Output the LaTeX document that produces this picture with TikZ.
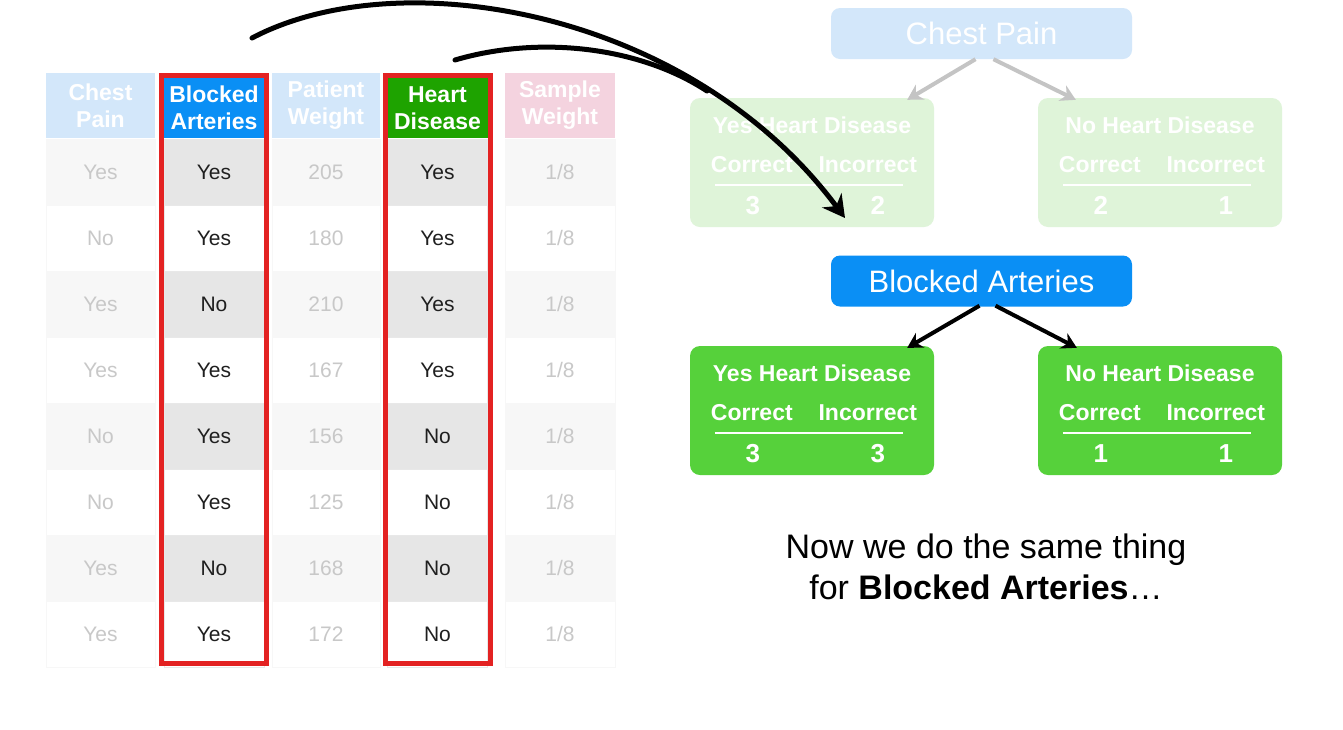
\documentclass[tikz,border=0pt]{standalone}
\usepackage{fontspec}
\setmainfont{Liberation Sans}
\usetikzlibrary{arrows.meta,calc}
\definecolor{fadeblue}{HTML}{D3E7FA}
\definecolor{fadepink}{HTML}{F4D3DF}
\definecolor{hiblue}{HTML}{0A8FF5}
\definecolor{higreen}{HTML}{1EA300}
\definecolor{leafgreen}{HTML}{56D13B}
\definecolor{fadegreen}{HTML}{DFF4D9}
\definecolor{redbox}{HTML}{E32222}
\definecolor{rowfade}{HTML}{F7F7F7}
\definecolor{rowhi}{HTML}{E6E6E6}
\definecolor{txtfade}{HTML}{C8C8C8}
\definecolor{arrgray}{HTML}{C4C4C4}
\newcommand\leaftxt[4]{%
  \node[lt] (#1t) at ($(#1.north)+(0,27)$) {#2};
  \node[lt] (#1c) at ($(#1.north west)+(62,67)$) {Correct};
  \node[lt] (#1i) at ($(#1.north west)+(178,67)$) {Incorrect};
  \draw[white, line width=2] ($(#1.north west)+(25,87)$) -- ($(#1.north west)+(213,87)$);
  \node[ln] (#1a) at ($(#1.north west)+(63,108)$) {#3};
  \node[ln] (#1b) at ($(#1.north west)+(188,108)$) {#4};
}
\begin{document}
\begin{tikzpicture}[x=1pt,y=-1pt,
  hdr/.style={font=\bfseries\fontsize{23}{27}\selectfont, text=white, align=center, inner sep=0},
  cellf/.style={minimum height=66, inner sep=0, text=txtfade, draw=gray!6, line width=0.6, font=\fontsize{21}{25}\selectfont},
  cellh/.style={minimum height=66, minimum width=100, inner sep=0, text=black!88, draw=gray!18, line width=0.6, font=\fontsize{21}{25}\selectfont},
  treebox/.style={rounded corners=9, minimum width=301, minimum height=51, inner sep=0, text=white, font=\fontsize{31}{35}\selectfont},
  leaf/.style={rounded corners=10, minimum width=244, minimum height=129, inner sep=0},
  lt/.style={inner sep=0, text=white, font=\bfseries\fontsize{23}{27}\selectfont},
  ln/.style={inner sep=0, text=white, font=\bfseries\fontsize{26}{30}\selectfont},
  treearr/.style={line width=4, -{Stealth[length=15,width=17]}},
  bigarr/.style={line width=5, line cap=round}
]
\useasboundingbox[fill=white] (0,0) rectangle (1343,729);

% headers
\node[hdr, fill=fadeblue, minimum width=109, minimum height=65] (hcp) at (100.5,105.5) {Chest\\Pain};
\node[hdr, fill=hiblue, minimum width=100, minimum height=60] (hba) at (214,108) {Blocked\\Arteries};
\node[hdr, fill=fadeblue, minimum width=108, minimum height=65] (hpw) at (326,105.5) {Patient\\Weight};
\node[hdr, fill=higreen, minimum width=100, minimum height=60] (hhd) at (437.5,108) {Heart\\Disease};
\node[hdr, fill=fadepink, minimum width=110, minimum height=65] (hsw) at (560,105.5) {Sample\\Weight};

% rows
\foreach \a/\b/\c/\d [count=\i] in {Yes/Yes/205/Yes, No/Yes/180/Yes, Yes/No/210/Yes, Yes/Yes/167/Yes, No/Yes/156/No, No/Yes/125/No, Yes/No/168/No, Yes/Yes/172/No}{
  \pgfmathsetmacro\yc{172+66*(\i-1)}
  \ifodd\i \def\ff{rowfade}\def\fh{rowhi}\else\def\ff{white}\def\fh{white}\fi
  \node[cellf, fill=\ff, minimum width=109] (cp\i) at (100.5,\yc) {\a};
  \node[cellh, fill=\fh] (ba\i) at (214,\yc) {\b};
  \node[cellf, fill=\ff, minimum width=108] (pw\i) at (326,\yc) {\c};
  \node[cellh, fill=\fh] (hd\i) at (437.5,\yc) {\d};
  \node[cellf, fill=\ff, minimum width=110] (sw\i) at (560,\yc) {1/8};
}

% red frames
\draw[redbox, line width=5] (161.5,75.5) rectangle (266.5,663);
\draw[redbox, line width=5] (385,75.5) rectangle (490,663);

% faded tree
\node[treebox, fill=fadeblue] (cpn) at (981.5,33.5) {Chest Pain};
\node[leaf, fill=fadegreen] (fy) at (812,162.5) {};
\node[leaf, fill=fadegreen] (fn) at (1160,162.5) {};
\leaftxt{fy}{Yes Heart Disease}{3}{2}
\leaftxt{fn}{No Heart Disease}{2}{1}
\draw[treearr, arrgray] ([xshift=-6]cpn.south) -- ([xshift=-27,yshift=-2]fy.north east);
\draw[treearr, arrgray] ([xshift=12]cpn.south) -- ([xshift=38,yshift=-2]fn.north west);

% active tree
\node[treebox, fill=hiblue] (ban) at (981.5,281) {Blocked Arteries};
\node[leaf, fill=leafgreen] (gy) at (812,410.5) {};
\node[leaf, fill=leafgreen] (gn) at (1160,410.5) {};
\leaftxt{gy}{Yes Heart Disease}{3}{3}
\leaftxt{gn}{No Heart Disease}{1}{1}
\draw[treearr, black] ([xshift=-2,yshift=1]ban.south) -- ([xshift=-27,yshift=-2]gy.north east);
\draw[treearr, black] ([xshift=14,yshift=1]ban.south) -- ([xshift=39,yshift=-2]gn.north west);

% big curved arrows
\coordinate (s1) at (252,38);
\coordinate (s2) at (455,60);
\coordinate (tip) at (845,218);
\coordinate (mj) at (707,91);
\draw[bigarr, -{Stealth[length=22,width=24]}] (s1) .. controls (400,-40) and (690,10) .. (tip);
\draw[bigarr] (s2) .. controls (540,35) and (640,47) .. (mj);

% caption
\node[align=center, inner sep=0, font=\fontsize{34}{41}\selectfont] (cap) at (986,567) {Now we do the same thing\\for \textbf{Blocked Arteries}…};
\end{tikzpicture}
\end{document}
